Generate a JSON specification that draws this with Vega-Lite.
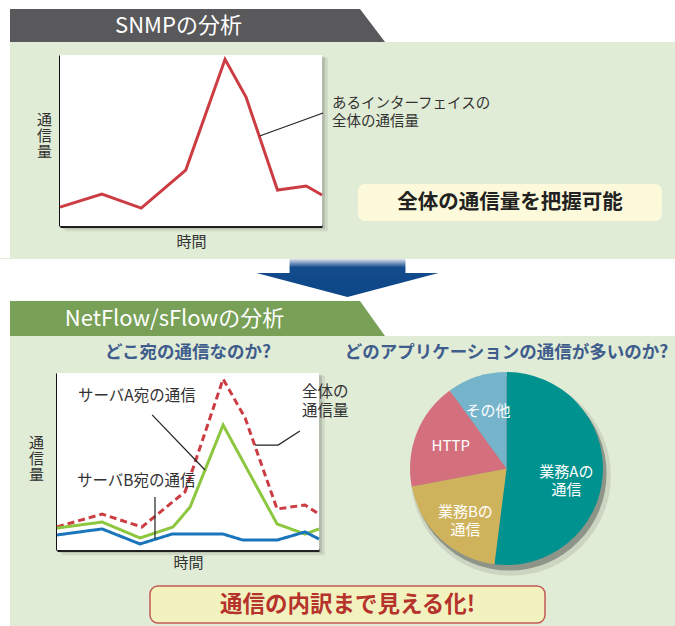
{
"$schema":"https://vega.github.io/schema/vega-lite/v6.json",
"background":"#e1ecd6",
"padding":0,
"config":{"view":{"stroke":null},"font":"Noto Sans CJK JP"},
"spacing":0,
"vconcat":[
 {"width":675,"height":9,"data":{"values":[]},"mark":"point","view":{"fill":"white"}},
 {"spacing":0,"bounds":"flush","hconcat":[
   {"width":10,"height":33,"data":{"values":[]},"mark":"point","view":{"fill":"white"}},
   {"width":375,"height":33,"view":{"fill":"white"},"data":{"values":[{"section":"SNMPの分析"}]},"layer":[
     {"mark":{"type":"point","shape":"M-1,-0.088L0.8667,-0.088L1,0.088L-1,0.088Z","size":140625,"filled":true,"fill":"#59585a","strokeWidth":0,"opacity":1}},
     {"mark":{"type":"text","color":"white","fontSize":22,"dx":-19,"baseline":"middle"},"encoding":{"text":{"field":"section"}}}
   ]},
   {"width":290,"height":33,"data":{"values":[]},"mark":"point","view":{"fill":"white"}}
 ]},
 {"spacing":0,"bounds":"flush","hconcat":[
   {"width":10,"height":216,"data":{"values":[]},"mark":"point","view":{"fill":"white"}},
   {"width":665,"height":216,
    "resolve":{"scale":{"x":"independent","y":"independent"},"axis":{"x":"independent","y":"independent"}},
    "layer":[
     {"data":{"values":[{"effect":"shadow"}]},
      "layer":[
        {"mark":{"type":"rect","color":"#4a4a4a","opacity":0.12},
         "encoding":{"x":{"datum":0.018,"type":"quantitative","scale":{"domain":[0,1],"range":[50,312]},"axis":null},"x2":{"datum":1.022},
                     "y":{"datum":-0.03,"type":"quantitative","scale":{"domain":[0,1],"range":[184,13]},"axis":null},"y2":{"datum":0.985}}},
        {"mark":{"type":"rect","color":"#4a4a4a","opacity":0.2},
         "encoding":{"x":{"datum":0.008,"type":"quantitative","scale":{"domain":[0,1],"range":[50,312]},"axis":null},"x2":{"datum":1.011},
                     "y":{"datum":-0.016,"type":"quantitative","scale":{"domain":[0,1],"range":[184,13]},"axis":null},"y2":{"datum":0.99}}}
      ]},
     {"encoding":{
        "x":{"field":"t","type":"quantitative","scale":{"domain":[0,10],"range":[50,312],"nice":false,"zero":false},
             "axis":{"title":"時間","offset":-32,"labels":false,"ticks":false,"grid":false,"domainColor":"#111","domainWidth":3,"titleFontSize":15,"titleFontWeight":"normal","titleColor":"#333","titlePadding":8}},
        "y":{"field":"v","type":"quantitative","scale":{"domain":[0,100],"range":[184,13],"nice":false,"zero":false},
             "axis":{"title":["通","信","量"],"offset":-50,"labels":false,"ticks":false,"grid":false,"domainColor":"#111","domainWidth":3,"titleFontSize":15,"titleFontWeight":"normal","titleColor":"#333","titleAngle":0,"titleAlign":"center","titleBaseline":"middle","titleLineHeight":16,"titleX":-16,"titleY":77}}
      },
      "layer":[
        {"data":{"values":[{"t":0,"t2":10,"v":0,"v2":100}]},"mark":{"type":"rect","fill":"white"},"encoding":{"x2":{"field":"t2"},"y2":{"field":"v2"}}},
        {"data":{"values":[{"t":0,"v":11},{"t":1.6,"v":18.7},{"t":3.1,"v":10.5},{"t":4.8,"v":32.7},{"t":6.3,"v":97.5},{"t":7.1,"v":75.4},{"t":8.3,"v":21},{"t":9.4,"v":23.4},{"t":10,"v":18.1}]},
         "mark":{"type":"line","color":"#cc3d43","strokeWidth":3}},
        {"data":{"values":[{"t":7.62,"v":52.6},{"t":10.04,"v":66.1}]},
         "mark":{"type":"line","color":"#222","strokeWidth":1.2}},
        {"data":{"values":[{"t":10.38,"v":71.6,"label":"あるインターフェイスの\n全体の通信量"}]},
         "mark":{"type":"text","align":"left","baseline":"middle","fontSize":14.5,"lineBreak":"\n","lineHeight":18,"color":"#333"},
         "encoding":{"text":{"field":"label"}}}
      ]},
     {"data":{"values":[{"msg":"全体の通信量を把握可能"}]},
      "layer":[
        {"mark":{"type":"rect","fill":"#fdfadb","cornerRadius":7},
         "encoding":{"x":{"datum":0,"type":"quantitative","scale":{"domain":[0,1],"range":[348,652]},"axis":null},"x2":{"datum":1},
                     "y":{"datum":0,"type":"quantitative","scale":{"domain":[0,1],"range":[179,142]},"axis":null},"y2":{"datum":1}}},
        {"mark":{"type":"text","fontSize":20.5,"fontWeight":"bold","color":"#222","baseline":"middle"},
         "encoding":{"x":{"datum":0.5,"type":"quantitative","scale":{"domain":[0,1],"range":[348,652]},"axis":null},
                     "y":{"datum":0.5,"type":"quantitative","scale":{"domain":[0,1],"range":[179,142]},"axis":null},
                     "text":{"field":"msg"}}}
      ]}
    ]}
 ]},
 {"spacing":0,"bounds":"flush","hconcat":[
   {"width":20,"height":42,"data":{"values":[]},"mark":"point","view":{"fill":"white"}},
   {"width":655,"height":42,"view":{"fill":"white"},"data":{"values":[{"from":"SNMP","to":"NetFlow/sFlow"}]},
    "mark":{"type":"point","shape":"M-0.637,-0.231L0.637,-0.231L0.637,-0.077L1,-0.077L0,0.187L-1,-0.077L-0.637,-0.077Z","size":33124,"filled":true,"opacity":1,"strokeWidth":0,
      "fill":{"gradient":"linear","x1":0,"y1":0,"x2":0,"y2":1,"stops":[{"offset":0,"color":"#dbe2ef"},{"offset":0.22,"color":"#134b8c"},{"offset":1,"color":"#0d4787"}]}}}
 ]},
 {"spacing":0,"bounds":"flush","hconcat":[
   {"width":10,"height":35,"data":{"values":[]},"mark":"point","view":{"fill":"white"}},
   {"width":375,"height":35,"view":{"fill":"white"},"data":{"values":[{"section":"NetFlow/sFlowの分析"}]},"layer":[
     {"mark":{"type":"point","shape":"M-1,-0.0933L0.8667,-0.0933L1,0.0933L-1,0.0933Z","size":140625,"filled":true,"fill":"#78a057","strokeWidth":0,"opacity":1}},
     {"mark":{"type":"text","color":"white","fontSize":22,"dx":-23,"baseline":"middle"},"encoding":{"text":{"field":"section"}}}
   ]},
   {"width":290,"height":35,"data":{"values":[]},"mark":"point","view":{"fill":"white"}}
 ]},
 {"spacing":0,"bounds":"flush","hconcat":[
   {"width":10,"height":291,"data":{"values":[]},"mark":"point","view":{"fill":"white"}},
   {"width":665,"height":291,
    "resolve":{"scale":{"x":"independent","y":"independent","color":"independent","theta":"independent","strokeDash":"independent"},"axis":{"x":"independent","y":"independent"}},
    "layer":[
     {"data":{"values":[{"effect":"shadow"}]},
      "layer":[
        {"mark":{"type":"rect","color":"#4a4a4a","opacity":0.12},
         "encoding":{"x":{"datum":0.018,"type":"quantitative","scale":{"domain":[0,1],"range":[47,309]},"axis":null},"x2":{"datum":1.022},
                     "y":{"datum":-0.03,"type":"quantitative","scale":{"domain":[0,1],"range":[214,37]},"axis":null},"y2":{"datum":0.985}}},
        {"mark":{"type":"rect","color":"#4a4a4a","opacity":0.2},
         "encoding":{"x":{"datum":0.008,"type":"quantitative","scale":{"domain":[0,1],"range":[47,309]},"axis":null},"x2":{"datum":1.011},
                     "y":{"datum":-0.016,"type":"quantitative","scale":{"domain":[0,1],"range":[214,37]},"axis":null},"y2":{"datum":0.99}}},
        {"data":{"values":[{"heading":"どこ宛の通信なのか?"}]},
         "mark":{"type":"text","fontSize":17.5,"fontWeight":"bold","color":"#3e5d8c","baseline":"middle","dy":-20},
         "encoding":{"x":{"datum":0.5,"type":"quantitative","scale":{"domain":[0,1],"range":[47,309]},"axis":null},
                     "y":{"datum":1,"type":"quantitative","scale":{"domain":[0,1],"range":[214,37]},"axis":null},
                     "text":{"field":"heading"}}}
      ]},
     {"encoding":{
        "x":{"field":"t","type":"quantitative","scale":{"domain":[0,10],"range":[47,309],"nice":false,"zero":false},
             "axis":{"title":"時間","offset":-77,"labels":false,"ticks":false,"grid":false,"domainColor":"#111","domainWidth":3,"titleFontSize":15,"titleFontWeight":"normal","titleColor":"#333","titlePadding":5.5}},
        "y":{"field":"v","type":"quantitative","scale":{"domain":[0,100],"range":[214,37],"nice":false,"zero":false},
             "axis":{"title":["通","信","量"],"offset":-47,"labels":false,"ticks":false,"grid":false,"domainColor":"#111","domainWidth":3,"titleFontSize":15,"titleFontWeight":"normal","titleColor":"#333","titleAngle":0,"titleAlign":"center","titleBaseline":"middle","titleLineHeight":16,"titleX":-21,"titleY":106}}
      },
      "layer":[
        {"data":{"values":[{"t":0,"t2":10,"v":0,"v2":100}]},"mark":{"type":"rect","fill":"white"},"encoding":{"x2":{"field":"t2"},"y2":{"field":"v2"}}},
        {"data":{"values":[
          {"series":"全体の通信量","t":0,"v":13.0},{"series":"全体の通信量","t":1.72,"v":20.3},{"series":"全体の通信量","t":3.24,"v":13.0},{"series":"全体の通信量","t":4.89,"v":32.9},{"series":"全体の通信量","t":6.34,"v":96.6},{"series":"全体の通信量","t":7.18,"v":74.6},{"series":"全体の通信量","t":8.4,"v":23.2},{"series":"全体の通信量","t":9.47,"v":25.4},{"series":"全体の通信量","t":10,"v":20.3},
          {"series":"サーバA宛の通信","t":0,"v":12.4},{"series":"サーバA宛の通信","t":1.72,"v":15.8},{"series":"サーバA宛の通信","t":3.17,"v":6.8},{"series":"サーバA宛の通信","t":4.43,"v":13.0},{"series":"サーバA宛の通信","t":5.08,"v":24.3},{"series":"サーバA宛の通信","t":6.34,"v":70.6},{"series":"サーバA宛の通信","t":8.4,"v":14.7},{"series":"サーバA宛の通信","t":9.47,"v":9.0},{"series":"サーバA宛の通信","t":10,"v":11.9},
          {"series":"サーバB宛の通信","t":0,"v":8.5},{"series":"サーバB宛の通信","t":1.72,"v":11.9},{"series":"サーバB宛の通信","t":3.17,"v":3.4},{"series":"サーバB宛の通信","t":4.39,"v":9.0},{"series":"サーバB宛の通信","t":6.34,"v":9.0},{"series":"サーバB宛の通信","t":7.1,"v":5.6},{"series":"サーバB宛の通信","t":8.4,"v":5.6},{"series":"サーバB宛の通信","t":9.47,"v":10.2},{"series":"サーバB宛の通信","t":10,"v":6.2}
         ]},
         "mark":{"type":"line","strokeWidth":3},
         "encoding":{
           "color":{"field":"series","type":"nominal","scale":{"domain":["サーバB宛の通信","サーバA宛の通信","全体の通信量"],"range":["#1b75bb","#8dc63f","#cc3d43"]},"legend":null},
           "strokeDash":{"field":"series","type":"nominal","scale":{"domain":["サーバB宛の通信","サーバA宛の通信","全体の通信量"],"range":[[1,0],[1,0],[7,4]]},"legend":null}
         }},
        {"data":{"values":[
          {"id":"A","t":3.63,"v":76.3},{"id":"A","t":5.65,"v":45.2},
          {"id":"total","t":7.56,"v":59.3},{"id":"total","t":8.44,"v":59.3},{"id":"total","t":9.27,"v":67.2},
          {"id":"B","t":3.74,"v":29.9},{"id":"B","t":3.74,"v":6.2}
         ]},
         "mark":{"type":"line","color":"#222","strokeWidth":1.2},
         "encoding":{"detail":{"field":"id","type":"nominal"}}},
        {"data":{"values":[
          {"t":0.8,"v":87.0,"label":"サーバA宛の通信"},
          {"t":9.35,"v":89.0,"label":"全体の\n通信量"},
          {"t":0.76,"v":39.0,"label":"サーバB宛の通信"}
         ]},
         "mark":{"type":"text","align":"left","baseline":"middle","fontSize":15.5,"lineBreak":"\n","lineHeight":19,"color":"#333"},
         "encoding":{"text":{"field":"label"}}}
      ]},
     {"encoding":{
        "x":{"datum":0,"type":"quantitative","scale":{"domain":[-1,1],"range":[400,593],"nice":false,"zero":false},"axis":null},
        "y":{"datum":0,"type":"quantitative","scale":{"domain":[-1,1],"range":[229,36],"nice":false,"zero":false},"axis":null}
      },
      "layer":[
        {"data":{"values":[{"effect":"shadow"}]},
         "mark":{"type":"arc","theta":0,"theta2":6.2832,"outerRadius":100,"color":"#333","opacity":0.12},
         "encoding":{"x":{"datum":0.045,"type":"quantitative","scale":{"domain":[-1,1],"range":[400,593],"nice":false,"zero":false},"axis":null},
                     "y":{"datum":-0.075,"type":"quantitative","scale":{"domain":[-1,1],"range":[229,36],"nice":false,"zero":false},"axis":null}}},
        {"data":{"values":[{"effect":"shadow"}]},
         "mark":{"type":"arc","theta":0,"theta2":6.2832,"outerRadius":97,"color":"#333","opacity":0.4},
         "encoding":{"x":{"datum":0.031,"type":"quantitative","scale":{"domain":[-1,1],"range":[400,593],"nice":false,"zero":false},"axis":null},
                     "y":{"datum":-0.052,"type":"quantitative","scale":{"domain":[-1,1],"range":[229,36],"nice":false,"zero":false},"axis":null}}},
        {"data":{"values":[
            {"app":"業務Aの通信","label":"業務Aの\n通信","share":52,"rank":1},
            {"app":"業務Bの通信","label":"業務Bの\n通信","share":20,"rank":2},
            {"app":"HTTP","label":"HTTP","share":18,"rank":3},
            {"app":"その他","label":"その他","share":10,"rank":4}
          ]},
         "layer":[
           {"mark":{"type":"arc","outerRadius":96.5},
            "encoding":{"theta":{"field":"share","type":"quantitative","stack":true},"order":{"field":"rank","type":"quantitative"},
                        "color":{"field":"app","type":"nominal","scale":{"domain":["業務Aの通信","業務Bの通信","HTTP","その他"],"range":["#00928f","#cfb35c","#d4707e","#76b4cc"]},"legend":null}}},
           {"mark":{"type":"text","radius":60,"fontSize":15,"color":"white","lineBreak":"\n","lineHeight":18,"baseline":"middle"},
            "encoding":{"theta":{"field":"share","type":"quantitative","stack":true},"order":{"field":"rank","type":"quantitative"},"text":{"field":"label"}}}
         ]},
        {"data":{"values":[{"heading":"どのアプリケーションの通信が多いのか?"}]},
         "mark":{"type":"text","fontSize":17.5,"fontWeight":"bold","color":"#3e5d8c","baseline":"middle","dy":-19.5},
         "encoding":{"y":{"datum":1,"type":"quantitative","scale":{"domain":[-1,1],"range":[229,36],"nice":false,"zero":false},"axis":null},
                     "text":{"field":"heading"}}}
      ]},
     {"data":{"values":[{"msg":"通信の内訳まで見える化!"}]},
      "layer":[
        {"mark":{"type":"rect","fill":"#f2f2bf","stroke":"#c55a55","strokeWidth":1.5,"cornerRadius":8},
         "encoding":{"x":{"datum":0,"type":"quantitative","scale":{"domain":[0,1],"range":[140,535]},"axis":null},"x2":{"datum":1},
                     "y":{"datum":0,"type":"quantitative","scale":{"domain":[0,1],"range":[287,250]},"axis":null},"y2":{"datum":1}}},
        {"mark":{"type":"text","fontSize":22.5,"fontWeight":"bold","color":"#b5332b","baseline":"middle"},
         "encoding":{"x":{"datum":0.5,"type":"quantitative","scale":{"domain":[0,1],"range":[140,535]},"axis":null},
                     "y":{"datum":0.5,"type":"quantitative","scale":{"domain":[0,1],"range":[287,250]},"axis":null},
                     "text":{"field":"msg"}}}
      ]}
    ]}
 ]}
]
}
